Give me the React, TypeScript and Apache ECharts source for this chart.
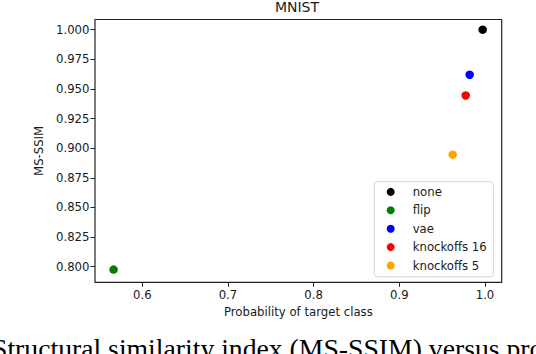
import React, { useEffect, useRef } from "react";
import * as echarts from "echarts";

const seriesNames = ["none", "flip", "vae", "knockoffs 16", "knockoffs 5"];
const seriesColors = ["#000000", "#008000", "#0000ff", "#ff0000", "#ffa500"];
const probValues = [0.9973, 0.5665, 0.9821, 0.9775, 0.9623];
const msssimValues = [1.0, 0.7975, 0.962, 0.9445, 0.8945];
const xTicks = [0.6, 0.7, 0.8, 0.9, 1.0];
const yTicks = [0.8, 0.825, 0.85, 0.875, 0.9, 0.925, 0.95, 0.975, 1.0];

const FONT = "DejaVu Sans";
const TXT = "#1a1a1a";

export default function App() {
  const ref = useRef<HTMLDivElement>(null);
  useEffect(() => {
    if (!ref.current) return;
    const chart = echarts.init(ref.current, null, { renderer: "svg" });
    chart.setOption({
      animation: false,
      backgroundColor: "#ffffff",
      grid: {
        left: 95,
        right: 34.3,
        top: 19.5,
        bottom: 71.7,
        show: true,
        borderColor: "#222222",
        borderWidth: 1.2,
        backgroundColor: "transparent",
        containLabel: false,
        outerBoundsMode: "none",
      },
      xAxis: {
        type: "value",
        min: 0.5448,
        max: 1.0195,
        axisLine: { show: false, onZero: false },
        splitLine: { show: false },
        axisTick: {
          show: true,
          customValues: xTicks,
          length: 4.5,
          lineStyle: { color: "#222222", width: 1 },
        },
        axisLabel: {
          customValues: xTicks,
          formatter: (v: number) => v.toFixed(1),
          margin: 7,
          fontSize: 11.7,
          fontFamily: FONT,
          color: TXT,
        },
        name: "Probability of target class",
        nameLocation: "middle",
        nameGap: 23,
        nameTextStyle: { fontSize: 11.7, fontFamily: FONT, color: TXT },
      },
      yAxis: {
        type: "value",
        min: 0.7868,
        max: 1.0086,
        axisLine: { show: false, onZero: false },
        splitLine: { show: false },
        axisTick: {
          show: true,
          customValues: yTicks,
          length: 4.5,
          lineStyle: { color: "#222222", width: 1 },
        },
        axisLabel: {
          customValues: yTicks,
          formatter: (v: number) => v.toFixed(3),
          margin: 5.5,
          fontSize: 11.7,
          fontFamily: FONT,
          color: TXT,
        },
        name: "MS-SSIM",
        nameLocation: "middle",
        nameGap: 45,
        nameTextStyle: { fontSize: 11.7, fontFamily: FONT, color: TXT },
      },
      legend: {
        orient: "vertical",
        left: 374.3,
        top: 181.7,
        padding: [1, 6.7, 2, 12.4],
        itemWidth: 8,
        itemHeight: 8,
        itemGap: 0,
        icon: "circle",
        borderColor: "#d5d5d5",
        borderWidth: 1,
        borderRadius: 3,
        backgroundColor: "rgba(255,255,255,0.85)",
        textStyle: {
          fontSize: 11.7,
          fontFamily: FONT,
          color: TXT,
          lineHeight: 18.4,
          padding: [0, 0, 0, 13],
        },
        data: seriesNames,
      },
      graphic: [
        {
          type: "text",
          x: 297,
          y: 6.5,
          style: {
            text: "MNIST",
            fontSize: 14,
            fontFamily: FONT,
            fill: TXT,
            align: "center",
            verticalAlign: "middle",
          },
        },
        {
          type: "text",
          x: -8,
          y: 348.5,
          style: {
            text: "Structural similarity index (MS-SSIM) versus probability of target class",
            fontSize: 27.7,
            fontFamily: "Liberation Serif",
            fill: "#000000",
            align: "left",
            verticalAlign: "middle",
          },
        },
      ],
      series: seriesNames.map((name, i) => ({
        name,
        type: "scatter",
        symbol: "circle",
        symbolSize: 8.5,
        itemStyle: { color: seriesColors[i], opacity: 1 },
        data: [[probValues[i], msssimValues[i]]],
      })),
    });
    return () => chart.dispose();
  }, []);
  return <div ref={ref} style={{ width: 536, height: 354, position: "absolute", left: 0, top: 0 }} />;
}
